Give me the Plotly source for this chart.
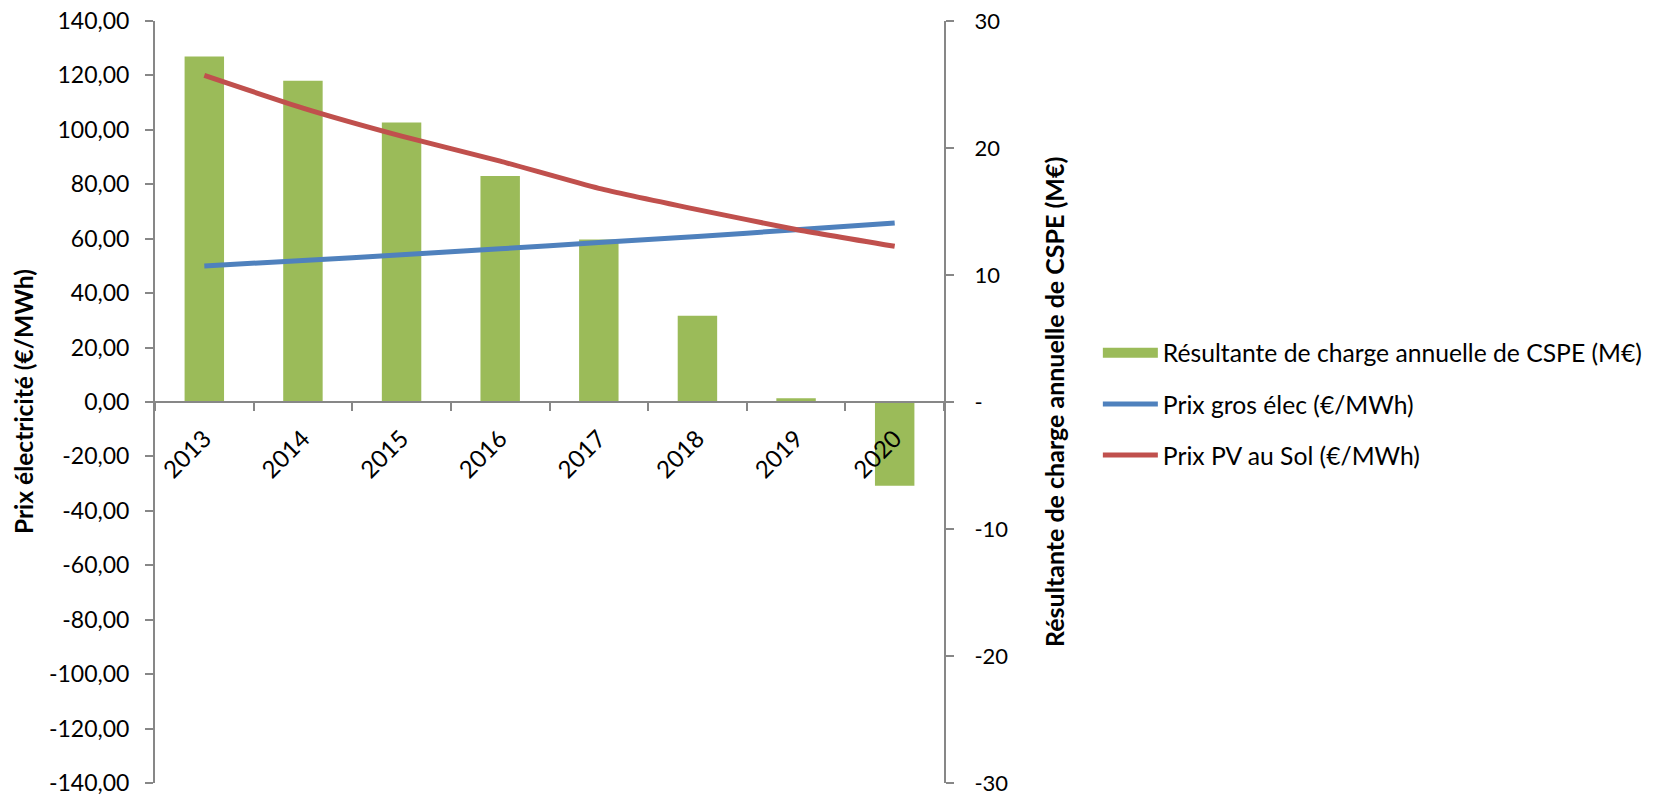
import plotly.graph_objects as go

years = ["2013", "2014", "2015", "2016", "2017", "2018", "2019", "2020"]
cspe_meur = [27.2, 25.3, 22.0, 17.8, 12.8, 6.8, 0.3, -6.6]
prix_gros = [50.0, 52.0, 54.1, 56.3, 58.6, 60.8, 63.3, 65.8]
prix_pv = [120.0, 108.0, 97.7, 88.5, 78.5, 70.7, 63.4, 57.2]

left_ticks = [-140, -120, -100, -80, -60, -40, -20, 0, 20, 40, 60, 80, 100, 120, 140]
left_ticktext = ["-140,00", "-120,00", "-100,00", "-80,00", "-60,00", "-40,00", "-20,00", "0,00",
                 "20,00", "40,00", "60,00", "80,00", "100,00", "120,00", "140,00"]
right_ticks = [-30, -20, -10, 0, 10, 20, 30]
right_ticktext = ["-30", "-20", "-10", "-", "10", "20", "30"]

FONT = "Lato"
GREEN = "#9BBB59"
BLUE = "#4F81BD"
RED = "#C0504D"
AXIS = "#878787"
BAR_NAME = "Résultante de charge annuelle de CSPE (M€)"

fig = go.Figure()
fig.add_trace(go.Bar(
    x=years, y=cspe_meur, yaxis="y", width=0.4, marker=dict(color=GREEN, line=dict(width=0)),
    name=BAR_NAME, legendgroup="a", showlegend=False,
))
# legend entry for the bars (wide rectangular swatch like the original)
fig.add_trace(go.Scatter(
    x=[None], y=[None], yaxis="y", mode="lines", line=dict(color=GREEN, width=16),
    name=BAR_NAME, legendgroup="a", hoverinfo="skip",
))
fig.add_trace(go.Scatter(
    x=years, y=prix_gros, yaxis="y2", mode="lines", line=dict(color=BLUE, width=5, shape="spline", smoothing=0.5),
    name="Prix gros élec (€/MWh)", legendgroup="b",
))
fig.add_trace(go.Scatter(
    x=years, y=prix_pv, yaxis="y2", mode="lines", line=dict(color=RED, width=5, shape="spline", smoothing=0.5),
    name="Prix PV au Sol (€/MWh)", legendgroup="c",
))

fig.update_layout(
    width=1666, height=798,
    margin=dict(l=155, r=722, t=21, b=15, pad=0, autoexpand=False),
    paper_bgcolor="white", plot_bgcolor="white",
    font=dict(family=FONT, size=22, color="black"),
    showlegend=True,
    legend=dict(
        x=1.195, y=0.497, xanchor="left", yanchor="middle",
        font=dict(family=FONT, size=24.7, color="black"),
        tracegroupgap=16, itemwidth=55, bgcolor="rgba(0,0,0,0)",
    ),
    xaxis=dict(
        type="category", anchor="free", position=0.5, automargin=False,
        showline=True, linecolor=AXIS, linewidth=2,
        ticks="outside", tickson="boundaries", ticklen=8, tickcolor=AXIS, tickwidth=2,
        tickangle=-45, tickfont=dict(family=FONT, size=24, color="black"),
        ticklabelstandoff=12,
        showgrid=False, zeroline=False,
    ),
    yaxis=dict(
        side="right", range=[-30, 30], tickvals=right_ticks, ticktext=right_ticktext, automargin=False,
        showline=True, linecolor=AXIS, linewidth=2,
        ticks="outside", ticklen=8, tickcolor=AXIS, tickwidth=2,
        tickfont=dict(family=FONT, size=22, color="black"),
        ticklabelstandoff=16,
        showgrid=False, zeroline=False,
    ),
    yaxis2=dict(
        side="left", overlaying="y", range=[-140, 140], tickvals=left_ticks, ticktext=left_ticktext,
        automargin=False,
        showline=True, linecolor=AXIS, linewidth=2,
        ticks="outside", ticklen=8, tickcolor=AXIS, tickwidth=2,
        tickfont=dict(family=FONT, size=23, color="black"),
        ticklabelstandoff=11,
        showgrid=False, zeroline=False,
    ),
    annotations=[
        dict(text="<b>Prix électricité (€/MWh)</b>", xref="paper", yref="paper",
             x=(23 - 155) / 789, y=0.5, xanchor="center", yanchor="middle",
             textangle=-90, showarrow=False, font=dict(family=FONT, size=24.5, color="black")),
        dict(text="<b>Résultante de charge annuelle de CSPE (M€)</b>", xref="paper", yref="paper",
             x=(1054 - 155) / 789, y=0.5, xanchor="center", yanchor="middle",
             textangle=-90, showarrow=False, font=dict(family=FONT, size=25, color="black")),
    ],
)

fig.write_html("out.html")
